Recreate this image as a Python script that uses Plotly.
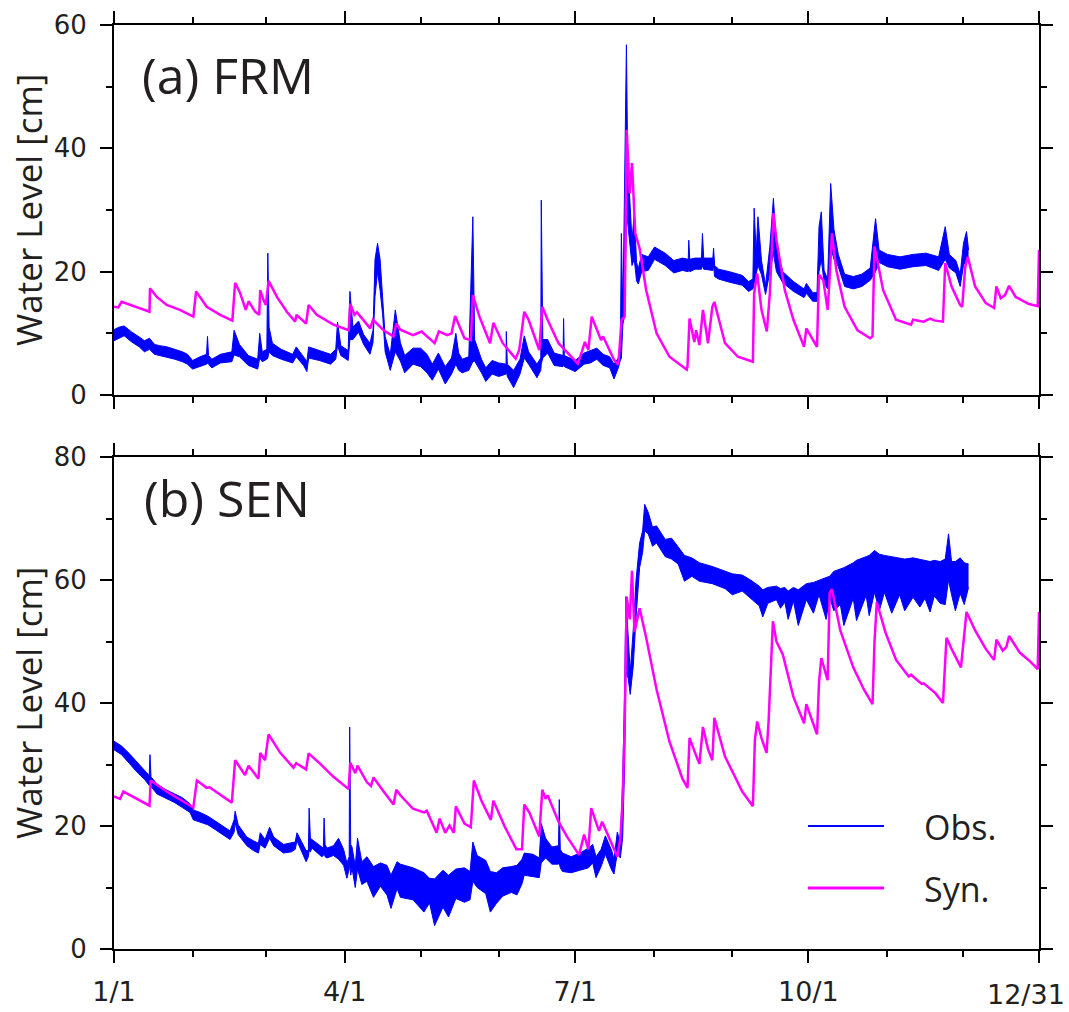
import plotly.graph_objects as go

W, H = 1069, 1012
BLUE = "#0000FF"
MAG = "#FF00FF"
TXT = "#231f20"

# ---------------- x axis (day of year, leap year) ----------------
major_days = [0, 91, 182, 274, 365]
major_labels = ["1/1", "4/1", "7/1", "10/1", "12/31"]
minor_days = [31, 60, 121, 152, 213, 244, 305, 335]

# ---------------- Panel (a) FRM ----------------
a_syn_day = [0, 1.7, 3, 14, 14.2, 16.9, 20.8, 26, 31.3, 32.4, 36.6, 41.9, 46.7, 47.8, 49.8, 52, 53.1,
             55.7, 57.3, 57.7, 59, 59.9, 61, 64.3, 68.2, 71.5, 72, 75.8, 76.8, 80, 86.6, 92.6, 93.2,
             94.9, 95.9, 101.1, 102.2, 106.4, 110.3, 111.4, 113, 118, 121.4, 126.5, 128.2, 131.5,
             133.2, 134.6, 138.3, 140.8, 141.6, 144.2, 148.4, 149.7, 153.4, 158.5, 159.9, 161.9,
             163.6, 167.8, 169, 171.1, 175.4, 178.7, 183, 184.6, 185.8, 187.2, 188.5, 192.2, 193,
             197.3, 199, 200.3, 201.5, 202.3, 203.5, 204.4, 205.7, 207.4, 210, 214.1, 219.2, 226,
             226.3, 227.1, 229, 229.7, 231, 232.4, 234.4, 236.1, 236.9, 241.1, 246.2, 252.1, 252.6,
             253.8, 255.5, 257.6, 258.8, 260.2, 261.4, 264.7, 268.1, 272.3, 273.2, 277.4, 278.2,
             279.9, 281.6, 282.4, 283.3, 285, 288.3, 293.4, 298.4, 299.3, 300.1, 303.5, 308.6,
             314.5, 315.3, 319.5, 322, 323.7, 327.1, 328, 330.5, 333.9, 334.7, 335.9, 336.9, 339.8,
             344, 347.3, 348.2, 349.9, 351.6, 353.2, 355.8, 360.8, 364.5, 365]
a_syn_val = [14.3, 14.2, 15.1, 13.5, 17.3, 15.9, 14.6, 13.8, 12.7, 16.8, 14.3, 13.0, 12.05, 18.2, 16.5,
             13.8, 15.2, 13.5, 13.0, 17.0, 15.4, 14.6, 18.5, 15.9, 13.5, 11.9, 13.0, 11.6, 14.6, 13.0,
             11.4, 10.5, 14.8, 13.0, 13.4, 10.8, 12.2, 10.5, 9.5, 11.6, 10.6, 9.7, 10.3, 8.4, 10.3,
             9.7, 10.0, 12.8, 9.2, 8.9, 16.2, 12.7, 8.4, 11.7, 8.4, 5.9, 7.3, 13.5, 12.2, 7.3, 14.3,
             12.2, 8.4, 7.0, 5.1, 7.0, 8.6, 7.3, 12.7, 8.9, 9.5, 5.7, 4.9, 12.2, 12.7, 43.0, 32.7,
             37.6, 26.2, 23.8, 17.0, 10.0, 6.2, 4.1, 4.6, 12.4, 8.6, 10.5, 8.1, 13.8, 8.4, 14.3,
             15.1, 8.4, 6.2, 5.4, 16.5, 19.7, 13.8, 10.3, 16.5, 29.5, 25.1, 17.0, 12.2, 7.8, 10.8,
             7.8, 19.5, 18.6, 13.8, 19.2, 26.2, 20.3, 14.3, 10.5, 9.2, 9.5, 24.1, 17.0, 12.2, 11.4,
             12.2, 11.9, 12.4, 12.1, 11.9, 21.4, 17.6, 14.6, 14.3, 20.8, 22.4, 17.6, 14.9, 14.1,
             17.6, 15.7, 16.2, 17.7, 15.9, 14.8, 14.4, 23.5]

a_obs_day = [0, 2, 4, 7, 10, 12, 14, 16, 18, 21, 24, 27, 29, 31, 34, 36.5, 36.9, 37.3, 38.6, 42, 46.5,
             47.4, 49.5, 53, 56.7, 57.5, 58.5, 60.3, 60.7, 61.2, 62.5, 66, 70.5, 71.9, 74.8, 76.1,
             76.8, 81, 85.5, 87.5, 88.2, 89.5, 92.4, 93.1, 94.3, 96.5, 98.5, 101, 102.2, 103, 104,
             105, 106, 107, 109, 111, 113, 114.7, 118, 121, 123.5, 125.6, 128, 130.7, 133.2, 134.9,
             136, 137.4, 140, 141.6, 142.3, 145, 146.7, 149.2, 151.8, 154.7, 154.8, 155.2, 157.7,
             160.2, 161.9, 163.6, 166.9, 168.4, 168.6, 169.2, 171.1, 173.7, 177.2, 177.4, 177.7, 182,
             185.5, 188, 190.5, 193, 195.6, 197.3, 199, 199.8, 200.2, 200.8, 201.6, 202.2, 202.7,
             203.5, 204.4, 205.3, 206.2, 206.9, 208.2, 210.8, 213.3, 217.5, 220.9, 224.3, 226.6,
             226.8, 227.2, 229.3, 231.8, 232.2, 232.7, 236.3, 236.6, 237, 238.6, 242.8, 247.9, 250.4,
             252.1, 252.6, 253.4, 254.1, 255.5, 257.1, 258.8, 260.2, 261.4, 263.9, 268.1, 272.3,
             273.2, 275.7, 277.4, 278.2, 279.1, 280.2, 281.6, 282.8, 284.1, 285.8, 288.3, 291.7,
             295.1, 298.4, 300.5, 301.9, 305.2, 310.2, 315.3, 320.4, 325.4, 328, 329.6, 332.2, 333.9,
             335.2, 336.4, 337.2]
a_obs_lo = [8.8, 9.2, 9.6, 8.6, 7.8, 7.0, 7.4, 6.6, 6.4, 6.2, 5.8, 5.4, 5.0, 4.2, 4.6, 5.0, 5.2, 5.0,
            4.4, 5.2, 5.4, 6.5, 6.2, 4.8, 4.2, 6.0, 5.4, 5.8, 6.0, 7.0, 6.4, 5.8, 5.2, 6.2, 4.8, 3.8,
            6.0, 5.6, 5.0, 5.8, 8.0, 6.4, 5.6, 9.0, 9.0, 10.2, 8.2, 6.6, 8.5, 16.0, 20.0, 17.0, 13.0,
            7.0, 4.0, 7.0, 5.5, 3.6, 5.0, 4.6, 3.6, 2.4, 4.2, 1.8, 3.4, 5.0, 4.0, 3.6, 4.0, 5.4, 5.5,
            3.6, 2.2, 3.4, 3.0, 3.4, 4.0, 3.0, 1.2, 3.4, 6.0, 5.0, 2.8, 4.0, 5.0, 6.0, 6.8, 4.8, 4.6,
            5.0, 4.6, 3.8, 5.0, 5.2, 5.8, 4.8, 4.4, 2.6, 4.4, 5.6, 6.0, 11.5, 13.0, 30.0, 28.0, 24.0,
            21.0, 22.0, 18.5, 18.0, 20.0, 20.2, 22.0, 21.0, 19.8, 20.2, 20.0, 21.0, 20.0, 20.4, 20.4,
            21.0, 20.4, 20.2, 21.0, 19.2, 18.8, 18.3, 17.8, 16.8, 17.2, 18.0, 20.0, 21.0, 19.5, 16.3,
            20.0, 23.0, 20.0, 18.2, 16.8, 15.8, 16.5, 15.2, 15.2, 20.0, 22.0, 18.2, 17.2, 24.0, 22.0,
            20.8, 17.6, 17.2, 17.6, 18.6, 20.0, 21.5, 20.8, 20.4, 20.8, 21.0, 20.2, 22.0, 20.6, 19.8,
            17.6, 21.0, 22.0, 21.8]
a_obs_hi = [10.6, 11.0, 11.2, 10.2, 9.4, 8.8, 9.2, 8.2, 8.0, 7.8, 7.4, 7.0, 6.6, 5.6, 6.2, 6.6, 9.5,
            6.4, 5.8, 6.6, 7.0, 10.5, 8.2, 6.4, 5.8, 10.0, 7.0, 7.4, 23.0, 11.0, 8.4, 7.4, 6.6, 7.8,
            6.2, 5.4, 7.8, 7.2, 6.6, 7.4, 11.8, 8.0, 7.2, 16.8, 11.0, 12.0, 9.8, 8.4, 10.5, 22.0,
            24.6, 22.0, 16.0, 9.5, 6.5, 13.8, 8.5, 6.4, 7.6, 7.6, 6.6, 5.0, 6.8, 4.6, 6.0, 10.0,
            6.8, 5.8, 6.2, 28.9, 9.0, 5.8, 4.4, 5.6, 5.2, 5.0, 10.3, 5.0, 4.0, 5.8, 9.6, 7.0, 5.0,
            6.0, 31.6, 9.0, 9.0, 6.8, 6.4, 12.4, 6.4, 5.6, 6.8, 7.2, 7.6, 6.6, 6.2, 5.0, 6.0, 7.2,
            26.2, 13.0, 39.7, 56.8, 38.0, 32.0, 25.0, 29.5, 21.5, 20.5, 22.8, 22.4, 24.0, 23.0, 21.8,
            22.2, 22.0, 25.1, 22.0, 22.2, 22.2, 26.2, 22.2, 22.2, 23.8, 21.0, 20.4, 20.0, 19.4, 18.4,
            18.8, 30.3, 23.0, 28.9, 21.8, 17.8, 24.1, 31.9, 24.0, 20.0, 18.4, 17.2, 18.1, 16.6, 16.6,
            27.3, 29.7, 20.2, 18.8, 34.3, 26.8, 22.8, 19.6, 19.2, 19.6, 20.6, 28.6, 23.5, 22.8, 22.4,
            22.8, 23.0, 22.4, 27.3, 22.8, 21.8, 19.6, 24.6, 26.5, 23.5]

# ---------------- Panel (b) SEN ----------------
b_syn_day = [0, 2.4, 3.7, 14, 14.5, 20.8, 31.3, 32.7, 36.6, 37.7, 46.5, 47.8, 51.7, 53.1, 57, 57.7,
             59.6, 61, 65.6, 70.8, 71.9, 75.8, 76.8, 81.4, 86.6, 92.6, 93.2, 95.2, 96.1, 99.8, 101.4,
             102.4, 106.4, 110.3, 111.4, 113, 118, 122.3, 123.4, 127.3, 128.5, 130.7, 132.4, 134.1,
             134.9, 138.3, 140.8, 142, 145, 148.7, 149.7, 154.3, 158.8, 161, 161.9, 163.9, 167.8,
             169, 170.3, 171.1, 175.4, 178.7, 183.5, 185.5, 187.2, 188.3, 191.4, 192.6, 196.4, 198.6,
             199.8, 200.7, 201.5, 202.3, 203.5, 204.4, 205.4, 207.4, 210, 214.1, 219.2, 224.3,
             226.3, 227.1, 229.3, 231, 232.4, 234.4, 236.1, 236.9, 241.1, 243.6, 247.9, 252.1,
             252.9, 253.8, 255.5, 257.5, 258.3, 260, 261.4, 263.9, 268.1, 272.3, 273.2, 277.4,
             278.2, 279.1, 281.6, 282.4, 283.3, 286.6, 291.7, 295.9, 299.3, 300.1, 301, 304.4,
             308.6, 313.6, 314.5, 318.7, 319.5, 324.1, 327.1, 328.5, 330.5, 334.2, 335.5, 336.4,
             339.8, 344, 347.3, 348.2, 350.7, 352.1, 353.2, 357.4, 361.7, 364.5, 365]
b_syn_val = [24.8, 24.4, 25.6, 23.3, 27.4, 25.6, 23.0, 27.4, 26.2, 26.3, 23.8, 30.7, 28.3, 29.8, 27.7,
             31.9, 30.7, 34.9, 31.9, 29.5, 30.2, 29.2, 31.8, 30.1, 28.0, 26.0, 30.3, 28.6, 29.8, 27.1,
             26.5, 27.9, 25.6, 23.5, 25.9, 25.0, 22.8, 22.2, 22.5, 18.9, 21.2, 18.9, 20.1, 18.9, 23.2,
             20.4, 19.8, 27.4, 24.1, 21.0, 24.1, 19.8, 16.2, 16.2, 23.5, 22.2, 18.3, 25.9, 24.4, 25.0,
             20.7, 18.3, 15.3, 18.6, 16.2, 22.9, 19.2, 20.7, 17.1, 15.0, 18.0, 24.1, 36.1, 57.3, 53.6,
             61.5, 51.5, 55.4, 50.6, 42.2, 33.7, 27.7, 26.2, 34.3, 31.9, 30.1, 36.1, 32.5, 30.7, 37.6,
             31.3, 29.2, 25.6, 23.2, 34.0, 37.0, 34.3, 31.9, 37.0, 53.3, 50.0, 47.9, 41.0, 36.7, 39.8,
             34.9, 43.4, 47.3, 43.7, 57.9, 58.5, 51.8, 45.8, 42.2, 39.8, 50.0, 56.4, 51.5, 47.0, 44.3,
             44.6, 43.1, 43.2, 41.6, 40.0, 50.6, 48.8, 45.8, 51.8, 54.8, 51.8, 48.8, 47.0, 50.3, 48.5,
             49.1, 50.9, 48.2, 46.7, 45.5, 54.8]

b_obs_day = [0, 3, 6, 9, 12, 13.9, 14.2, 14.6, 17, 20, 24, 27, 30, 31.3, 34, 37, 40, 43, 45.8, 47.4,
             47.8, 49, 52.4, 55, 57, 57.7, 59.6, 61.4, 63, 66.9, 70, 71.5, 72.2, 75.8, 76.7, 77, 77.5,
             78.1, 82, 82.6, 82.9, 83.3, 84, 86.6, 88.6, 90.6, 91.9, 92.8, 93, 93.4, 93.9, 95.2, 96.1,
             97.8, 99.8, 102.4, 105.1, 107.7, 109.3, 111.7, 113, 118, 122.3, 124.5, 126.5, 129.8,
             132, 134.9, 138.3, 140.5, 141.6, 143.3, 146.7, 148.5, 150.9, 153.4, 156.8, 159, 161,
             161.9, 165.3, 167.8, 168.6, 170.3, 172.8, 175.4, 175.7, 176.1, 177, 180.4, 183.8, 187.2,
             188.9, 190.2, 192.2, 193.9, 196.4, 197.3, 198.6, 199.8, 200.7, 201.5, 202, 202.9, 203.7,
             204.9, 206, 207.4, 208.6, 209.4, 210.8, 212.5, 214.1, 217.5, 220, 222.6, 225.1, 228,
             231, 236.1, 241.1, 244, 247.9, 251.2, 254.6, 256, 258, 261.4, 263, 264.7, 266, 268.1,
             270, 273.2, 276, 278.2, 281, 282.4, 284, 286.6, 288, 291.7, 293, 296.8, 298, 300.1, 302,
             304, 306.9, 310, 312, 315.3, 318, 320, 322, 323.7, 326, 328, 329.3, 330.5, 332, 333.9,
             335.5, 337.2]
b_obs_lo = [32.4, 31.6, 30.2, 28.8, 27.6, 26.6, 27.0, 26.4, 25.2, 24.6, 23.8, 23.0, 22.2, 21.0, 20.6,
            20.2, 19.4, 18.6, 17.8, 19.0, 20.5, 18.6, 16.8, 16.0, 15.6, 17.0, 16.4, 18.0, 16.8, 15.6,
            15.8, 16.2, 17.6, 14.2, 15.0, 16.0, 15.8, 16.4, 15.0, 15.2, 15.6, 15.0, 14.8, 15.2, 14.6,
            13.6, 11.5, 13.0, 14.0, 12.0, 13.2, 10.0, 13.0, 10.5, 11.0, 8.4, 10.2, 8.8, 6.6, 9.8,
            8.4, 8.0, 6.0, 7.5, 3.8, 6.8, 5.2, 8.2, 7.6, 8.0, 11.0, 10.0, 9.0, 6.0, 7.4, 8.6, 9.2,
            8.8, 10.6, 12.0, 11.8, 11.6, 14.0, 14.8, 13.8, 13.8, 14.0, 13.2, 12.6, 12.4, 12.8, 13.2,
            14.0, 11.6, 13.4, 15.4, 12.8, 12.2, 15.6, 14.8, 18.0, 30.0, 45.0, 44.0, 41.4, 46.0, 54.0,
            62.0, 64.5, 68.0, 67.5, 65.5, 66.0, 63.8, 63.4, 62.6, 59.8, 60.6, 59.8, 59.4, 58.6, 57.6,
            58.2, 57.0, 55.8, 54.0, 56.2, 56.8, 55.4, 56.4, 53.6, 56.6, 52.6, 56.8, 54.6, 57.6, 53.6,
            57.2, 55.0, 56.0, 52.6, 57.0, 53.4, 57.5, 54.2, 58.0, 55.0, 58.0, 54.6, 57.6, 55.0, 57.2,
            55.6, 57.0, 54.8, 57.4, 56.2, 56.0, 60.0, 57.6, 55.0, 57.8, 56.0, 58.8]
b_obs_hi = [33.8, 33.0, 31.8, 30.4, 29.0, 28.2, 31.6, 28.0, 26.8, 26.0, 25.2, 24.6, 23.6, 22.6, 22.2,
            21.6, 20.8, 20.0, 19.2, 21.0, 22.4, 20.2, 18.2, 17.6, 17.2, 18.9, 17.8, 19.8, 18.2, 17.0,
            17.2, 17.4, 18.9, 16.0, 16.0, 22.9, 18.0, 17.8, 16.6, 16.4, 21.3, 17.0, 16.4, 16.8, 18.0,
            16.2, 14.0, 15.0, 36.1, 17.0, 16.6, 13.5, 18.0, 14.2, 15.0, 13.4, 14.0, 13.6, 12.0, 14.2,
            13.8, 13.2, 12.4, 11.5, 11.4, 12.8, 12.0, 13.0, 13.2, 12.6, 17.4, 15.2, 14.4, 12.6, 12.4,
            13.2, 13.4, 13.6, 14.6, 15.6, 15.4, 14.8, 20.4, 18.0, 16.6, 16.8, 24.3, 16.2, 15.6, 15.0,
            15.6, 16.4, 17.0, 15.0, 16.2, 18.4, 16.0, 14.6, 19.0, 17.4, 27.1, 42.2, 57.3, 50.0, 45.0,
            52.0, 60.0, 66.0, 68.0, 72.3, 71.0, 68.6, 68.8, 66.6, 66.8, 65.4, 64.0, 63.6, 62.8, 62.2,
            61.4, 61.0, 60.8, 60.0, 59.0, 58.4, 58.8, 59.0, 58.6, 58.8, 58.2, 58.8, 58.4, 59.4, 59.6,
            60.0, 60.4, 60.6, 61.4, 61.8, 62.0, 62.8, 63.2, 63.8, 64.0, 64.8, 64.2, 64.0, 63.8, 63.6,
            63.4, 63.6, 63.4, 63.2, 63.0, 63.2, 63.0, 63.4, 67.5, 63.0, 63.0, 63.6, 62.8, 62.6]

# ---------------- figure ----------------
fig = go.Figure()


def add_band(x, lo, hi, xa, ya):
    fig.add_trace(go.Scatter(x=x, y=lo, mode="lines", line=dict(color=BLUE, width=1),
                             xaxis=xa, yaxis=ya, showlegend=False, hoverinfo="skip"))
    fig.add_trace(go.Scatter(x=x, y=hi, mode="lines", line=dict(color=BLUE, width=1),
                             fill="tonexty", fillcolor=BLUE, xaxis=xa, yaxis=ya,
                             showlegend=False, hoverinfo="skip"))


add_band(a_obs_day, a_obs_lo, a_obs_hi, "x", "y")
fig.add_trace(go.Scatter(x=a_syn_day, y=a_syn_val, mode="lines", line=dict(color=MAG, width=2.5),
                         xaxis="x", yaxis="y", showlegend=False))
add_band(b_obs_day, b_obs_lo, b_obs_hi, "x2", "y2")
fig.add_trace(go.Scatter(x=b_syn_day, y=b_syn_val, mode="lines", line=dict(color=MAG, width=2.5),
                         xaxis="x2", yaxis="y2", showlegend=False))

xdom = [114 / W, 1039 / W]
ya_dom = [1 - 395 / H, 1 - 25 / H]
yb_dom = [1 - 949 / H, 1 - 457 / H]

xtickfont = dict(family="DejaVu Sans", size=27, color=TXT)
ytickfont = dict(family="DejaVu Sans", size=26, color=TXT)
# the last x label (12/31) is placed as an annotation so it stays inside the page
x_ticktext = major_labels[:-1] + [""]
common_x = dict(range=[0, 365], showline=True, linecolor="black", linewidth=2, mirror="allticks",
                ticks="outside", ticklen=12, tickwidth=1.5, tickcolor="black",
                tickmode="array", tickvals=major_days, ticktext=x_ticktext,
                minor=dict(tickmode="array", tickvals=minor_days, ticks="outside", ticklen=6,
                           tickwidth=1.5, tickcolor="black", showgrid=False),
                showgrid=False, zeroline=False, tickfont=xtickfont, automargin=False, domain=xdom)
common_y = dict(showline=True, linecolor="black", linewidth=2, mirror="allticks",
                ticks="outside", ticklen=12, tickwidth=1.5, tickcolor="black", dtick=20,
                minor=dict(dtick=10, ticks="outside", ticklen=6, tickwidth=1.5, tickcolor="black",
                           showgrid=False),
                showgrid=False, zeroline=False, tickfont=ytickfont, automargin=False,
                ticklabelstandoff=8)

fig.update_layout(
    width=W, height=H, autosize=False,
    margin=dict(l=0, r=0, t=0, b=0),
    paper_bgcolor="white", plot_bgcolor="white",
    xaxis=dict(common_x, anchor="y", showticklabels=False),
    yaxis=dict(common_y, range=[0, 60], domain=ya_dom, anchor="x"),
    xaxis2=dict(common_x, anchor="y2", showticklabels=True, ticklabelstandoff=6),
    yaxis2=dict(common_y, range=[0, 80], domain=yb_dom, anchor="x2"),
    showlegend=False,
)

fig.add_annotation(text=major_labels[-1], xref="paper", yref="paper", x=1067 / W, y=1 - 994 / H,
                   showarrow=False, font=xtickfont, xanchor="right", yanchor="middle")

labfont = dict(family="Open Sans", size=35, color=TXT)
for yc in [(25 + 395) / 2, (457 + 949) / 2]:
    fig.add_annotation(text="Water Level [cm]", xref="paper", yref="paper", x=28 / W, y=1 - yc / H,
                       textangle=-90, showarrow=False, font=labfont, xanchor="center", yanchor="middle")

panfont = dict(family="Open Sans", size=50, color=TXT)
fig.add_annotation(text="(a) FRM", xref="paper", yref="paper", x=140 / W, y=1 - 75 / H,
                   showarrow=False, font=panfont, xanchor="left", yanchor="middle")
fig.add_annotation(text="(b) SEN", xref="paper", yref="paper", x=142 / W, y=1 - 498 / H,
                   showarrow=False, font=panfont, xanchor="left", yanchor="middle")

# legend
legfont = dict(family="Open Sans", size=34, color=TXT)
for yy, col, name, lw in [(826, BLUE, "Obs.", 2), (888, MAG, "Syn.", 3)]:
    fig.add_shape(type="line", xref="paper", yref="paper", x0=808 / W, x1=884 / W,
                  y0=1 - yy / H, y1=1 - yy / H, line=dict(color=col, width=lw))
    fig.add_annotation(text=name, xref="paper", yref="paper", x=922 / W, y=1 - (yy + 1) / H,
                       showarrow=False, font=legfont, xanchor="left", yanchor="middle")

fig.write_html("out.html")
